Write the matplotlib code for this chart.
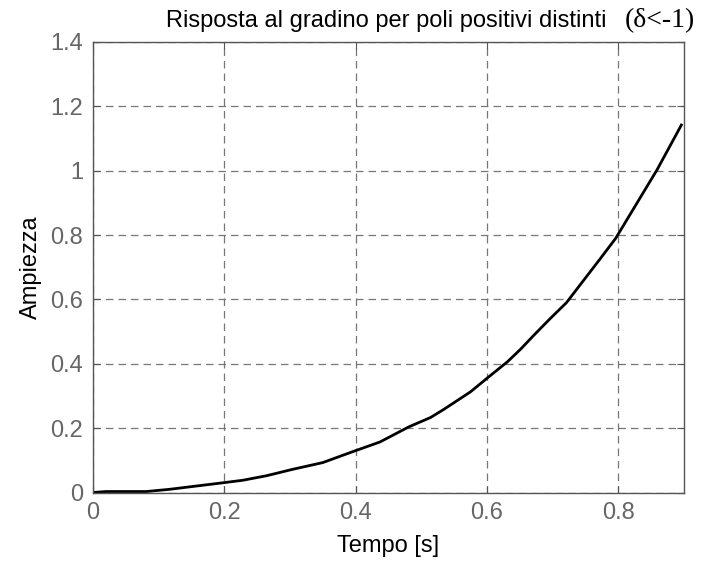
import matplotlib
matplotlib.use("Agg")
import matplotlib.pyplot as plt
import numpy as np

# step response samples
tempo = [0, 0.02, 0.081, 0.117, 0.197, 0.228, 0.264, 0.304, 0.350, 0.397,
         0.437, 0.481, 0.514, 0.534, 0.575, 0.600, 0.631, 0.651, 0.671,
         0.696, 0.721, 0.773, 0.796, 0.859, 0.896]
ampiezza = [0, 0.003, 0.003, 0.010, 0.030, 0.038, 0.052, 0.072, 0.093, 0.128,
            0.157, 0.204, 0.233, 0.258, 0.313, 0.355, 0.406, 0.445, 0.488,
            0.540, 0.590, 0.728, 0.79, 1.003, 1.142]

xticks = [0, 0.2, 0.4, 0.6, 0.8]
xticklabels = ["0", "0.2", "0.4", "0.6", "0.8"]
yticks = [0, 0.2, 0.4, 0.6, 0.8, 1, 1.2, 1.4]
yticklabels = ["0", "0.2", "0.4", "0.6", "0.8", "1", "1.2", "1.4"]

plt.rcParams['font.family'] = ['Liberation Sans', 'DejaVu Sans']

fig = plt.figure(figsize=(7.02, 5.61), dpi=100)
ax = fig.add_axes([93 / 702, 68.5 / 561, 591 / 702, 450.5 / 561])

ax.plot(tempo, ampiezza, color="black", linewidth=2.0)

ax.set_xlim(0, 0.9)
ax.set_ylim(0, 1.4)
ax.set_xticks(xticks)
ax.set_xticklabels(xticklabels)
ax.set_yticks(yticks)
ax.set_yticklabels(yticklabels)

# griglia tratteggiata stile matlab
ax.grid(True, color="#777777", linestyle=(0, (6, 4)), linewidth=0.9)
ax.tick_params(direction="in", length=5, color="#555555", labelcolor="#666666",
               labelsize=17, top=True, right=True, pad=7)
for s in ax.spines.values():
    s.set_color("#555555")
    s.set_linewidth(1.0)

ax.set_xlabel("Tempo [s]", fontsize=17, labelpad=8)
ax.set_ylabel("Ampiezza", fontsize=17, labelpad=6)

fig.text(386.5 / 702, 1 - 26.7 / 561, "Risposta al gradino per poli positivi distinti",
         fontsize=17, ha="center", va="baseline")
fig.text(625 / 702, 1 - 26.7 / 561, "(δ<-1)", fontsize=20,
         family=['Liberation Serif', 'DejaVu Serif'], ha="left", va="baseline")

fig.savefig("out.png", dpi=100)
